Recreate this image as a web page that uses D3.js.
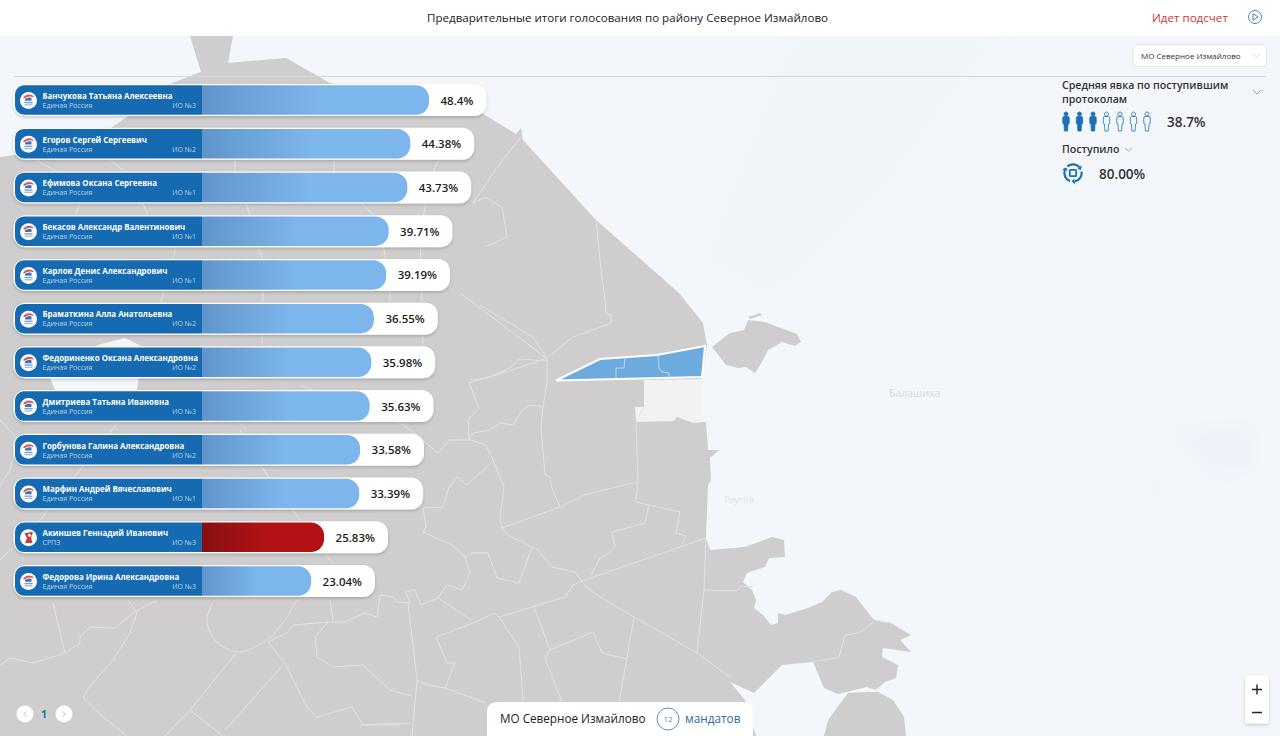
<!DOCTYPE html>
<html>
<head>
<meta charset="utf-8">
<style>
  html, body { margin: 0; padding: 0; background: #fff; overflow: hidden; }
  svg { display: block; font-family: "Open Sans", sans-serif; }
</style>
</head>
<body>
<div id="chart"></div>
<script src="https://cdnjs.cloudflare.com/ajax/libs/d3/7.8.5/d3.min.js"></script>
<script>
// candidates
var names = ['Банчукова Татьяна Алексеевна', 'Егоров Сергей Сергеевич', 'Ефимова Оксана Сергеевна',
    'Бекасов Александр Валентинович', 'Карлов Денис Александрович', 'Браматкина Алла Анатольевна',
    'Федориненко Оксана Александровна', 'Дмитриева Татьяна Ивановна', 'Горбунова Галина Александровна',
    'Марфин Андрей Вячеславович', 'Акиншев Геннадий Иванович', 'Федорова Ирина Александровна'];
var parties = ['Единая Россия', 'Единая Россия', 'Единая Россия', 'Единая Россия', 'Единая Россия', 'Единая Россия',
    'Единая Россия', 'Единая Россия', 'Единая Россия', 'Единая Россия', 'СРПЗ', 'Единая Россия'];
var districts = ['ИО №3', 'ИО №2', 'ИО №1', 'ИО №1', 'ИО №1', 'ИО №2', 'ИО №2', 'ИО №3', 'ИО №2', 'ИО №1', 'ИО №3', 'ИО №3'];
var values = [48.4, 44.38, 43.73, 39.71, 39.19, 36.55, 35.98, 35.63, 33.58, 33.39, 25.83, 23.04];
var valueLabels = ['48.4%', '44.38%', '43.73%', '39.71%', '39.19%', '36.55%', '35.98%', '35.63%', '33.58%', '33.39%', '25.83%', '23.04%'];

// panel numbers
var turnout = 38.7;
var received = 80;

// map shapes, in picture pixels
var mapMain = [[190,36],[233,36],[228,63],[286,58],[330,83],[480,112],[516,134],[521,128],[523,140],[596,220],[679,293],[703,323],[707,345],
    [702,378],[703,422],[706,422],[708,450],[719,450],[710,458],[711,480],[708,485],[706,538],[710,550],[745,547],[772,537],[784,540],[785,557],
    [769,558],[765,567],[747,573],[743,582],[752,590],[756,600],[754,608],[763,615],[771,625],[778,623],[778,613],[785,615],[808,608],
    [822,602],[832,592],[841,590],[856,597],[874,620],[891,623],[911,635],[900,640],[911,652],[883,648],[882,657],[898,665],[896,678],
    [885,682],[876,690],[867,687],[838,694],[824,688],[813,662],[782,665],[754,693],[730,682],[745,700],[756,736],[0,736],[0,157],[14,155],
    [60,140],[100,135],[127,117],[172,83],[201,72]];
var mapIsland = [[712,347],[730,333],[744,330],[748,320],[765,322],[778,327],[797,334],[801,342],[795,346],[782,342],[768,350],[762,362],
    [755,373],[746,367],[738,368],[726,365]];
var mapIslandBar = [[748,317],[760,313],[762,315],[750,319]];
var mapSouth = [[824,736],[828,720],[848,693],[867,692],[878,692],[893,700],[904,717],[906,736]];
var mapLake = [[98,345],[125,338],[143,347],[137,390],[55,390],[50,378],[70,365]];
var mapPending = [[644,380],[703,379],[703,422],[693,423],[677,417],[674,421],[636,422],[635,407],[644,407]];
var mapSelected = [[556,380.5],[600,359],[657,355],[705,346],[702,377]];
var selectedInner = [
    [[625,358],[624,368],[616,368],[616,378]],
    [[658,356],[659,368],[662,372],[669,373],[669,377]]
];
var mapBorders = [
    [[547,358],[547,382],[543,407],[541,427],[545,475],[550,477],[552,488],[560,507]],
    [[502,528],[560,507],[584,495],[637,482]],
    [[644,407],[636,422],[638,482],[636,502],[680,512],[676,533],[686,536],[682,545]],
    [[649,505],[645,523],[612,532],[615,547],[606,555],[600,558],[591,575]],
    [[706,538],[582,581],[573,585],[565,597],[499,617],[495,613],[473,623],[436,637],[447,663],[455,663],[445,688]],
    [[502,528],[508,535],[538,550],[552,567],[575,572],[586,587],[597,595],[634,617],[697,653],[730,677]],
    [[634,617],[619,703]],
    [[706,538],[704,590],[697,653]],
    [[704,590],[737,591],[741,586],[752,587]],
    [[874,622],[859,633],[845,635],[839,657],[813,662]],
    [[532,547],[519,583],[497,578],[488,553],[471,553],[465,557],[470,573],[462,590],[447,585],[438,598],[421,605],[415,590],[406,592],[410,603],[397,602],[393,597],[380,595],[377,617],[364,613],[345,622],[328,622],[293,625],[287,633],[268,642]],
    [[438,598],[471,620]],
    [[534,607],[550,650],[593,632],[602,653],[627,659]],
    [[550,650],[545,658],[562,702]],
    [[499,617],[519,647],[523,700]],
    [[408,603],[417,680],[412,736]],
    [[417,680],[428,685],[445,688],[486,703]],
    [[360,725],[410,723]],
    [[449,440],[471,440],[486,445],[493,460],[504,487],[500,517],[502,528]],
    [[492,462],[467,485],[457,477],[449,487],[443,507],[423,508],[426,527],[423,532],[452,545],[465,557]],
    [[449,440],[438,453],[404,425],[350,405],[300,385]],
    [[543,407],[530,405],[522,410],[513,425],[500,423],[490,430],[473,433],[469,440],[468,420],[479,408],[469,383],[512,370],[547,358]],
    [[480,305],[533,337],[547,358]],
    [[605,300],[606,313],[611,315],[611,323],[573,337],[547,358]],
    [[547,361],[520,359],[510,368],[487,378],[470,380]],
    [[596,220],[601,270],[605,300]],
    [[521,137],[495,170],[473,203],[485,197],[502,207],[507,237],[485,247]],
    [[460,293],[545,357]],
    [[53,603],[65,653],[33,663],[10,658],[0,665]],
    [[65,653],[80,643],[80,637],[90,627],[115,628],[133,613],[157,600]],
    [[128,600],[137,613],[130,633],[113,660],[87,690],[83,698],[103,717],[127,736]],
    [[237,652],[190,710],[165,736]],
    [[190,710],[223,736]],
    [[268,642],[285,663],[225,730]],
    [[285,663],[307,707],[317,717],[352,707],[363,725],[400,725]],
    [[330,600],[333,620]],
    [[328,622],[315,637],[317,657],[333,667],[363,665],[390,690],[412,696]],
    [[36,160],[58,172],[80,205],[65,235]],
    [[110,160],[130,175],[150,220],[175,250],[165,290],[150,330]],
    [[235,160],[235,173],[250,215],[265,270],[262,305],[262,345]],
    [[334,160],[334,175],[378,220],[390,280],[390,305]],
    [[439,160],[431,175],[420,235],[422,305],[423,345]],
    [[0,560],[40,520],[80,470],[120,420],[160,400]],
    [[0,420],[18,440],[10,470],[0,485]],
    [[240,430],[260,465],[300,520],[330,560],[360,595]]
];
var circlePark = [[213,602],[207,620],[215,640],[237,652],[267,640],[285,620],[297,600]];

// svg container
var height = 736;
var width = 1280;

var svg = d3.select('#chart').append('svg')
    .attr('height', height)
    .attr('width', width);

var defs = svg.append('defs');

function addGradient(id, from, to) {
    var g = defs.append('linearGradient').attr('id', id);
    g.append('stop').attr('offset', '0%').attr('stop-color', from);
    g.append('stop').attr('offset', '52%').attr('stop-color', to);
    g.append('stop').attr('offset', '100%').attr('stop-color', to);
}
addGradient('barBlue', '#5f95cb', '#7db6ec');
addGradient('barRed', '#861012', '#b21214');

var softFilter = defs.append('filter').attr('id', 'soft')
    .attr('x', '-5%').attr('y', '-20%').attr('width', '110%').attr('height', '150%');
softFilter.append('feDropShadow').attr('dx', 0).attr('dy', 1.5).attr('stdDeviation', 1.6)
    .attr('flood-color', '#000').attr('flood-opacity', 0.2);

var blurFilter = defs.append('filter').attr('id', 'blur');
blurFilter.append('feGaussianBlur').attr('stdDeviation', 8);

var openLine = d3.line();
var ringLine = d3.line().curve(d3.curveLinearClosed);

// map background
svg.append('rect').attr('y', 36).attr('width', width).attr('height', height - 36).attr('fill', '#f3f7fb');

var tint = svg.append('g').attr('filter', 'url(#blur)');
tint.append('path').attr('d', ringLine([[790,36],[1000,36],[880,200],[770,300],[700,260]])).attr('fill', '#f0f5f8');
tint.append('path').attr('d', ringLine([[1170,430],[1250,420],[1260,470],[1210,480]])).attr('fill', '#eef3fb');
tint.append('path').attr('d', ringLine([[1150,480],[1170,470],[1150,510]])).attr('fill', '#eef3fb');

var faint = svg.append('g').attr('fill', '#dfe4e9').attr('font-size', 9);
faint.append('text').attr('x', 889).attr('y', 397).attr('font-size', 10.5).attr('fill', '#d5dae0').text('Балашиха');
faint.append('text').attr('x', 724).attr('y', 503).text('Реутов');

var mapG = svg.append('g');
mapG.append('path').attr('d', ringLine(mapMain)).attr('fill', '#cfcdce');
mapG.append('path').attr('d', ringLine(mapIsland)).attr('fill', '#cfcdce');
mapG.append('path').attr('d', ringLine(mapIslandBar)).attr('fill', '#cfcdce');
mapG.append('path').attr('d', ringLine(mapSouth)).attr('fill', '#cfcdce');
mapG.append('path').attr('d', ringLine(mapLake)).attr('fill', '#f3f7fb');
mapG.append('path').attr('d', ringLine(mapPending)).attr('fill', '#f2f2f2');

mapG.selectAll('path.border')
    .data(mapBorders)
    .enter()
    .append('path')
    .attr('class', 'border')
    .attr('d', openLine)
    .attr('fill', 'none')
    .attr('stroke', '#e4e3e4')
    .attr('stroke-width', 1);

mapG.append('path')
    .attr('d', d3.line().curve(d3.curveCatmullRom)(circlePark))
    .attr('fill', 'none')
    .attr('stroke', '#e4e3e4');

mapG.append('path')
    .attr('d', ringLine(mapSelected))
    .attr('fill', '#6dabdf')
    .attr('stroke', '#fff')
    .attr('stroke-width', 2);

mapG.selectAll('path.inner')
    .data(selectedInner)
    .enter()
    .append('path')
    .attr('class', 'inner')
    .attr('d', openLine)
    .attr('fill', 'none')
    .attr('stroke', '#cfe3f3')
    .attr('stroke-width', 0.8);

// header
svg.append('rect').attr('width', width).attr('height', 36).attr('fill', '#fff');
svg.append('text').attr('x', 627.5).attr('y', 21.5).attr('text-anchor', 'middle')
    .attr('font-size', 11.6).attr('fill', '#222')
    .text('Предварительные итоги голосования по району Северное Измайлово');
svg.append('text').attr('x', 1152).attr('y', 21.5)
    .attr('font-size', 11.6).attr('fill', '#d6333a').text('Идет подсчет');
svg.append('circle').attr('cx', 1255).attr('cy', 17).attr('r', 6.5)
    .attr('fill', 'none').attr('stroke', '#4a86b8').attr('stroke-width', 1);
svg.append('path').attr('d', 'M1253,13.6 L1258,17 L1253,20.4 Z')
    .attr('fill', 'none').attr('stroke', '#4a86b8').attr('stroke-width', 1);

// rule under the select
svg.append('line').attr('x1', 14).attr('x2', 1266).attr('y1', 76.5).attr('y2', 76.5)
    .attr('stroke', '#d3d8de').attr('stroke-width', 1);

// select box
svg.append('rect').attr('x', 1133).attr('y', 44.5).attr('width', 133.5).attr('height', 22).attr('rx', 3)
    .attr('fill', '#fff').attr('stroke', '#e3e6ea');
svg.append('text').attr('x', 1141).attr('y', 59).attr('font-size', 8).attr('fill', '#333').text('МО Северное Измайлово');
svg.append('path').attr('d', 'M1253,54 L1256.5,57 L1260,54').attr('fill', 'none').attr('stroke', '#d5d9dd');

// bars
var xScale = d3.scaleLinear().domain([0, 48.4]).range([204, 429]);
var yScale = d3.scalePoint().domain(d3.range(names.length)).range([100, 581]);

var barLeft = 202;
var barH = 29.5;

function barPath(i) {
    var y0 = -barH / 2, y1 = barH / 2, end = xScale(values[i]), r = 13;
    var p = d3.path();
    p.moveTo(barLeft, y0);
    p.lineTo(end - r, y0);
    p.arcTo(end, y0, end, y0 + r, r);
    p.lineTo(end, y1 - r);
    p.arcTo(end, y1, end - r, y1, r);
    p.lineTo(barLeft, y1);
    p.closePath();
    return p.toString();
}

var rows = svg.selectAll('g.row')
    .data(d3.range(names.length))
    .enter()
    .append('g')
    .attr('class', 'row')
    .attr('transform', i => `translate(0, ${yScale(i)})`);

var pills = rows.append('rect')
    .attr('x', 13.5)
    .attr('y', -16)
    .attr('height', 32)
    .attr('rx', 12)
    .attr('fill', '#fff')
    .attr('filter', 'url(#soft)');

rows.append('path')
    .attr('d', barPath)
    .attr('fill', i => parties[i] === 'СРПЗ' ? 'url(#barRed)' : 'url(#barBlue)');

rows.append('path')
    .attr('d', function() {
        var p = d3.path(), r = 9;
        p.moveTo(barLeft, -barH / 2);
        p.lineTo(15 + r, -barH / 2);
        p.arcTo(15, -barH / 2, 15, -barH / 2 + r, r);
        p.lineTo(15, barH / 2 - r);
        p.arcTo(15, barH / 2, 15 + r, barH / 2, r);
        p.lineTo(barLeft, barH / 2);
        p.closePath();
        return p.toString();
    })
    .attr('fill', '#166ab1');

// party badge
rows.append('circle').attr('cx', 28.5).attr('cy', 0.5).attr('r', 8.5).attr('fill', '#fff');
rows.each(function(i) {
    var g = d3.select(this);
    if (parties[i] === 'СРПЗ') {
        g.append('path').attr('d', 'M24.5,-4 L33,-5.5 L31,0.5 L32.5,5.5 L25,6 L27,1 Z').attr('fill', '#cf3a40');
        g.append('circle').attr('cx', 29.5).attr('cy', -2).attr('r', 1.5).attr('fill', '#fff');
    }
    else {
        g.append('path').attr('d', 'M23,-2 Q25,-5.5 29,-5.5 Q33,-5.5 34,-2.5 L32,-3.2 Q28,-4.2 24.5,-1.5 Z').attr('fill', '#d9555d');
        g.append('path').attr('d', 'M25,-1 Q28,-3.2 31.5,-2.2 L31.5,0.8 L25,0.8 Z').attr('fill', '#3f74b6');
        g.append('rect').attr('x', 24.5).attr('y', 2).attr('width', 8).attr('height', 1.3).attr('fill', '#6f9ccf');
        g.append('rect').attr('x', 24.5).attr('y', 4.2).attr('width', 8).attr('height', 1.3).attr('fill', '#9dbbdd');
    }
});

rows.append('text')
    .attr('x', 42.5)
    .attr('y', -1.2)
    .attr('font-size', 7.9)
    .attr('font-weight', 700)
    .attr('fill', '#fff')
    .text(i => names[i]);

rows.append('text')
    .attr('x', 42.5)
    .attr('y', 7.8)
    .attr('font-size', 7)
    .attr('fill', '#b9d3ea')
    .text(i => parties[i]);

rows.append('text')
    .attr('x', 196)
    .attr('y', 7.8)
    .attr('text-anchor', 'end')
    .attr('font-size', 7)
    .attr('fill', '#b9d3ea')
    .text(i => districts[i]);

var valueText = rows.append('text')
    .attr('x', i => xScale(values[i]) + 11.5)
    .attr('y', 4.5)
    .attr('font-size', 11.5)
    .attr('font-weight', 600)
    .attr('fill', '#1d1d1d')
    .text(i => valueLabels[i]);

// white pill follows the value text
valueText.each(function(i) {
    var end = xScale(values[i]) + 11.5 + this.getComputedTextLength() + 13;
    d3.select(pills.nodes()[i]).attr('width', end - 13.5);
});

// turnout panel
svg.append('text').attr('x', 1062).attr('y', 89).attr('font-size', 10.6).attr('font-weight', 600).attr('fill', '#333')
    .text('Средняя явка по поступившим');
svg.append('text').attr('x', 1062).attr('y', 103).attr('font-size', 10.6).attr('font-weight', 600).attr('fill', '#333')
    .text('протоколам');
svg.append('path').attr('d', 'M1253,90 L1257,94 L1261,90').attr('fill', 'none').attr('stroke', '#7fa8c9');

var peopleX = d3.scalePoint().domain(d3.range(7)).range([1066, 1147]);
var personPath = 'M0,-9.5 a2,2 0 1 0 0.01,0 Z M-1.8,-5 Q-3.2,-5 -3.2,-3.6 L-3.2,2 L-2,2.6 L-1.6,9.5 L1.6,9.5 L2,2.6 L3.2,2 L3.2,-3.6 Q3.2,-5 1.8,-5 Z';
var filledPeople = Math.round(turnout / 100 * 7);

svg.selectAll('path.person')
    .data(d3.range(7))
    .enter()
    .append('path')
    .attr('class', 'person')
    .attr('d', personPath)
    .attr('transform', d => `translate(${peopleX(d)}, 121.5)`)
    .attr('fill', d => d < filledPeople ? '#1c6fb0' : 'none')
    .attr('stroke', '#1c6fb0')
    .attr('stroke-width', 0.8);

svg.append('text').attr('x', 1167).attr('y', 127).attr('font-size', 13.5).attr('font-weight', 600).attr('fill', '#333')
    .text(turnout + '%');

svg.append('text').attr('x', 1062).attr('y', 153).attr('font-size', 10.6).attr('font-weight', 600).attr('fill', '#333')
    .text('Поступило');
svg.append('path').attr('d', 'M1125,148 L1128.5,151 L1132,148').attr('fill', 'none').attr('stroke', '#7fa8c9');

// received icon
var icon = svg.append('g').attr('transform', 'translate(1073, 173)');
var iconArc = d3.arc().innerRadius(7.6).outerRadius(9.8);
[[-0.7, 0.85], [1.4, 2.95], [3.5, 5.05]].forEach(function(a) {
    icon.append('path').attr('d', iconArc({startAngle: a[0], endAngle: a[1]})).attr('fill', '#1c6fb0');
    var tip = [Math.sin(a[1] + 0.35) * 8.7, -Math.cos(a[1] + 0.35) * 8.7];
    var back = [Math.sin(a[1]) * 5.7, -Math.cos(a[1]) * 5.7];
    var out = [Math.sin(a[1]) * 11.7, -Math.cos(a[1]) * 11.7];
    icon.append('path').attr('d', ringLine([tip, back, out])).attr('fill', '#1c6fb0');
});
icon.append('rect').attr('x', -3.2).attr('y', -3.2).attr('width', 6.4).attr('height', 6.4).attr('rx', 1)
    .attr('fill', 'none').attr('stroke', '#1c6fb0').attr('stroke-width', 1.8);

svg.append('text').attr('x', 1099).attr('y', 179).attr('font-size', 13.5).attr('font-weight', 600).attr('fill', '#333')
    .text(received.toFixed(2) + '%');

// pagination
[25, 64].forEach(function(cx, k) {
    svg.append('circle').attr('cx', cx).attr('cy', 714).attr('r', 8.5).attr('fill', '#fff');
    var d = k === 0 ? 1.5 : -1.5;
    svg.append('path').attr('d', `M${cx + d},711.5 L${cx - d},714 L${cx + d},716.5`)
        .attr('fill', 'none').attr('stroke', '#c4c8cc');
});
svg.append('text').attr('x', 44).attr('y', 718).attr('text-anchor', 'middle').attr('font-size', 10.5).attr('font-weight', 700)
    .attr('fill', '#1c6fb0').text('1');

// bottom card
svg.append('path').attr('d', 'M487,736 L487,712 Q487,702 497,702 L743,702 Q753,702 753,712 L753,736 Z').attr('fill', '#fff');
svg.append('text').attr('x', 500).attr('y', 723).attr('font-size', 11.7).attr('fill', '#222').text('МО Северное Измайлово');
svg.append('circle').attr('cx', 668).attr('cy', 719).attr('r', 11).attr('fill', 'none').attr('stroke', '#5c8fb5');
svg.append('text').attr('x', 668).attr('y', 722).attr('text-anchor', 'middle').attr('font-size', 8).attr('fill', '#5c7f99').text('12');
svg.append('text').attr('x', 685).attr('y', 723).attr('font-size', 11.8).attr('fill', '#2f6aa0').text('мандатов');

// zoom buttons
svg.append('rect').attr('x', 1245).attr('y', 675.5).attr('width', 24).attr('height', 48).attr('rx', 3)
    .attr('fill', '#fff').attr('filter', 'url(#soft)');
svg.append('path').attr('d', 'M1252,689.5 L1262,689.5 M1257,684.5 L1257,694.5 M1252,712.5 L1262,712.5')
    .attr('stroke', '#222').attr('stroke-width', 1.4);
</script>
</body>
</html>
